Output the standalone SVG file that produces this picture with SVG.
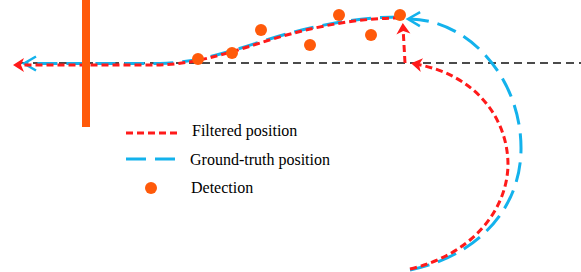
<svg xmlns="http://www.w3.org/2000/svg" width="581" height="272" viewBox="0 0 581 272">
  <style>
    .red { fill: none; stroke: #FF1A1A; stroke-width: 3; stroke-dasharray: 7 4; }
    .blue { fill: none; stroke: #13B2EC; stroke-width: 3; stroke-dasharray: 20 9; }
    .axis { fill: none; stroke: #111111; stroke-width: 1.6; stroke-dasharray: 8 5; }
    .det { fill: #FF5A0A; }
    .lbl { font-family: "Liberation Serif", "Times New Roman", serif; font-size: 16px; fill: #000000; }
  </style>
  <defs>
    <marker id="arrRed" viewBox="-12 -8 20 16" markerWidth="20" markerHeight="16" refX="0" refY="0" orient="auto" markerUnits="userSpaceOnUse">
      <path d="M4,0 L-7,-7 L-4,0 L-7,7 Z" fill="#FF1A1A"/>
    </marker>
    <marker id="arrBlue" viewBox="-14 -9 20 18" markerWidth="20" markerHeight="18" refX="0" refY="0" orient="auto" markerUnits="userSpaceOnUse">
      <path d="M-10,-7 L2,0 L-10,7" fill="none" stroke="#13B2EC" stroke-width="2.5"/>
    </marker>
  </defs>

  <g id="reference-axis">
    <line class="axis" x1="20" y1="63" x2="581" y2="63"/>
  </g>

  <g id="connectors">
    <!-- ground truth -->
    <path class="blue" d="M410,270 C470,258 520,215 521,150 C522,80 470,20 410,19" marker-end="url(#arrBlue)"/>
    <path class="blue" d="M400,17 C350,17 300,29 260,42 C220,55 190,63 160,63.5 L26,63.5" marker-end="url(#arrBlue)"/>
    <!-- filtered -->
    <path class="red" d="M410,269 C470,255 507,212 508,165 C508,118 475,74 415,64" marker-end="url(#arrRed)"/>
    <path class="red" d="M405,63 L403,27" marker-end="url(#arrRed)"/>
    <path class="red" d="M400,18 C350,18 300,30 260,43 C220,56 190,64 160,65 L17,65" marker-end="url(#arrRed)"/>
  </g>

  <g id="barrier">
    <rect x="82" y="0" width="8" height="127" fill="#FF5A0A"/>
  </g>

  <g id="detections">
    <circle class="det" cx="198" cy="59" r="6"/>
    <circle class="det" cx="232" cy="53" r="6"/>
    <circle class="det" cx="261" cy="30" r="6"/>
    <circle class="det" cx="310" cy="45" r="6"/>
    <circle class="det" cx="339" cy="15" r="6"/>
    <circle class="det" cx="371" cy="35" r="6"/>
    <circle class="det" cx="400" cy="15" r="6"/>
  </g>

  <g id="legend">
    <line class="red" x1="126" y1="133" x2="178" y2="133"/>
    <text class="lbl" x="192" y="136">Filtered position</text>
    <line class="blue" x1="126" y1="159" x2="178" y2="159"/>
    <text class="lbl" x="190" y="165">Ground-truth position</text>
    <circle class="det" cx="151" cy="188" r="6"/>
    <text class="lbl" x="191" y="193">Detection</text>
  </g>
</svg>
